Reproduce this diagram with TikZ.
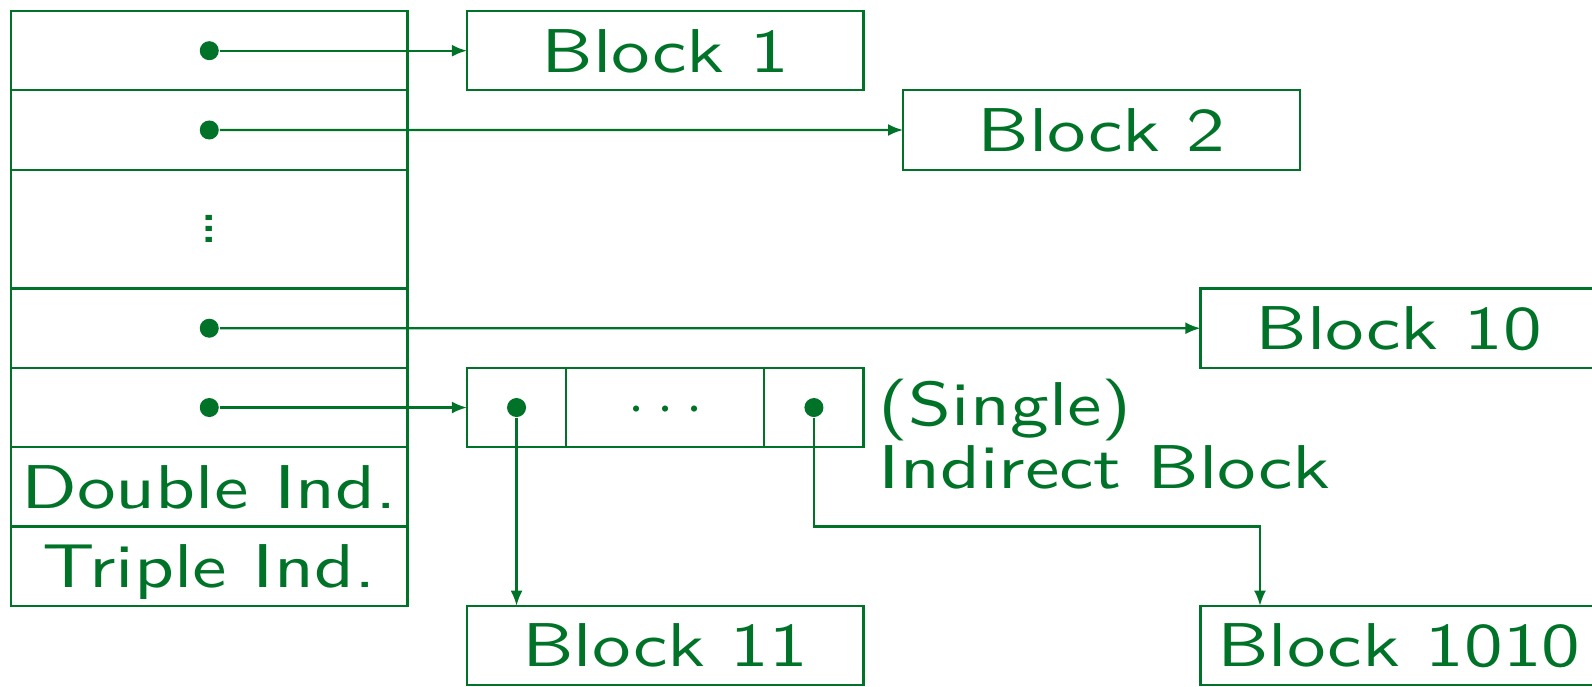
\documentclass[tikz,border=0pt]{standalone}
\usepackage{fontspec}
\setsansfont{lmsans10-regular.otf}[FakeStretch=1.25]
\usepackage{tikz}
\usetikzlibrary{positioning}
\usetikzlibrary{arrows.meta}
\definecolor{inodegreen}{RGB}{0,115,40}
\tikzstyle{cell} = [draw, rectangle, minimum height=1cm, minimum width=5cm, inner sep=0pt, outer sep=0pt, text height=15.4pt, text depth=0pt]
\tikzstyle{block} = [cell]
\tikzstyle{slot} = [draw, rectangle, minimum height=1cm, inner sep=0pt, outer sep=0pt]
\tikzstyle{ptr} = [circle, fill, inner sep=0pt, minimum size=0.24cm]
\tikzstyle{link} = [-{Latex[length=0.19cm,width=0.15cm]}]
\newcommand{\celldots}{\vbox{\baselineskip4pt\lineskiplimit0pt\hbox{.}\hbox{.}\hbox{.}}}

\begin{document}
\begin{tikzpicture}[x=1cm,y=-1cm,line width=0.8pt,color=inodegreen,
    every node/.style={font=\sffamily\fontsize{22.2}{22.6}\selectfont}]
    \useasboundingbox (-0.139,-0.139) rectangle (19.937,8.512);
    \clip (-0.139,-0.139) rectangle (19.937,8.512);

    % inode table
    \node [cell] (r1) at (2.5,0.5) {};
    \node [cell, below=0pt of r1] (r2) {};
    \node [cell, below=0pt of r2, minimum height=1.5cm] (r3) {};
    \node [cell, below=0pt of r3] (r4) {};
    \node [cell, below=0pt of r4] (r5) {};
    \node [cell, below=0pt of r5] (r6) {Double Ind.};
    \node [cell, below=0pt of r6] (r7) {Triple Ind.};
    \node [inner sep=0pt] (vd) at (r3) {\celldots};
    \foreach \r in {1,2,4,5}
        \node [ptr] (p\r) at (r\r) {};

    % data blocks
    \node [block, right=0.75cm of r1] (b1) {Block 1};
    \node [block] (b2) at (13.75,1.5) {Block 2};
    \node [block] (b10) at (17.5,4) {Block 10};

    % indirect block
    \node [slot, minimum width=1.25cm, right=0.75cm of r5] (s1) {};
    \node [slot, minimum width=2.5cm, right=0pt of s1, text height=11.1pt, text depth=0pt] (s2) {$\cdotp\mkern1mu\cdotp\mkern1mu\cdotp$};
    \node [slot, minimum width=1.25cm, right=0pt of s2] (s3) {};
    \node [ptr] (q1) at (s1) {};
    \node [ptr] (q3) at (s3) {};
    \node [anchor=base west, align=left, inner sep=0pt] (lab) at (10.93,6.015) {(Single)\\Indirect Block};

    \node [block, below=2cm of s1.south -| b1] (b11) {Block 11};
    \node [block] (b1010) at (17.5,8) {Block 1010};

    \draw [link] (p1) -- (b1);
    \draw [link] (p2) -- (b2);
    \draw [link] (p4) -- (b10);
    \draw [link] (p5) -- (s1);
    \draw [link] (q1) -- (q1 |- b11.north);
    \coordinate (knee) at (15.75,6.5);
    \draw [link] (q3) |- (knee) -- (knee |- b1010.north);
\end{tikzpicture}
\end{document}
